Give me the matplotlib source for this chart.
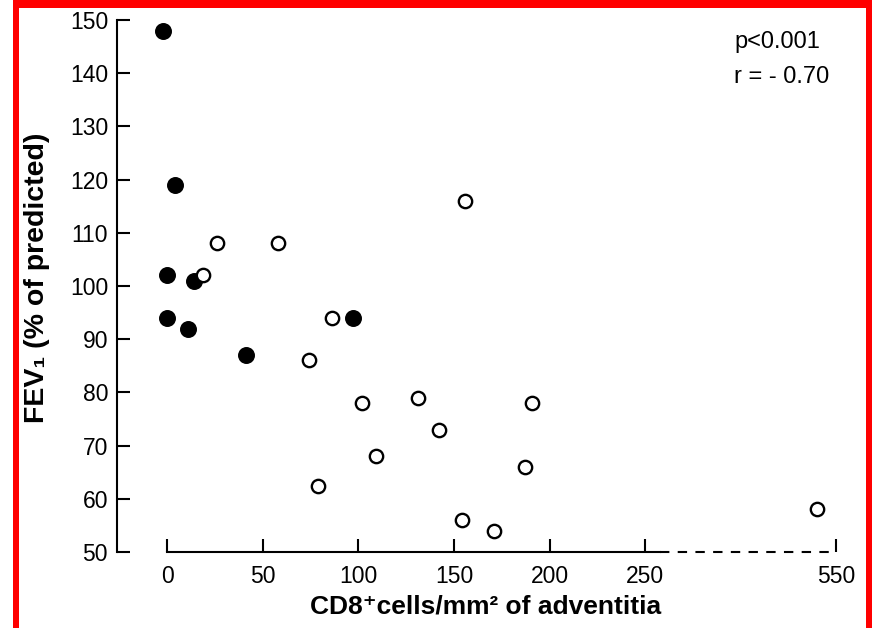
import numpy as np
import matplotlib.pyplot as plt
from matplotlib.patches import Rectangle

plt.rcParams['font.family'] = ['Liberation Sans', 'DejaVu Sans']

# smokers with airflow limitation (open) and without (filled)
cd8_filled = [-2, 4, 0, 14, 0, 11, 41, 97]
fev1_filled = [148, 119, 102, 101, 94, 92, 87, 94]

cd8_open = [26, 58, 19, 86, 74, 102, 131, 142, 109, 79, 154, 171, 187, 191, 156, 520]
fev1_open = [108, 108, 102, 94, 86, 78, 79, 73, 68, 62.5, 56, 54, 66, 78, 116, 58]

xticks = [0, 50, 100, 150, 200, 250, 550]
yticks = [50, 60, 70, 80, 90, 100, 110, 120, 130, 140, 150]

BREAK = 250  # axis is compressed past this value


def fwd(v):
    v = np.asarray(v, dtype=float)
    return np.where(v <= BREAK, v, BREAK + (v - BREAK) / 3.0)


def inv(t):
    t = np.asarray(t, dtype=float)
    return np.where(t <= BREAK, t, BREAK + (t - BREAK) * 3.0)


fig = plt.figure(figsize=(8.74, 6.28), dpi=100)
ax = fig.add_axes([0.1339, 0.1210, 0.8387, 0.8471])
ax.set_xscale('function', functions=(fwd, inv))
ax.set_xlim(inv(-26.2), inv(357.2))
ax.set_ylim(50, 150)

ax.plot(cd8_filled, fev1_filled, 'o', ms=11.2, mfc='black', mec='black',
        mew=1, clip_on=False, zorder=3)
ax.plot(cd8_open, fev1_open, 'o', ms=9.6, mfc='white', mec='black',
        mew=1.7, clip_on=False, zorder=4)

for s in ['top', 'right']:
    ax.spines[s].set_visible(False)
ax.spines['left'].set_bounds(50, 150)
ax.spines['bottom'].set_bounds(0, 274)
for s in ['left', 'bottom']:
    ax.spines[s].set_linewidth(1.5)
# dashed part of the broken x axis
ax.plot([274, 550], [50, 50], color='black', lw=1.5, ls=(0, (4.5, 4)),
        clip_on=False, zorder=2)

ax.set_xticks(xticks)
ax.set_xticklabels([str(v) for v in xticks])
ax.set_yticks(yticks)
ax.minorticks_off()
ax.tick_params(direction='in', length=9.4, width=1.5, labelsize=16.5)
ax.tick_params(axis='x', pad=9)
ax.tick_params(axis='y', pad=6.5)

ax.text(0.840, 1 - 42 / 628, 'p<0.001', transform=fig.transFigure,
        fontsize=17, ha='left', va='center')
ax.text(0.840, 1 - 77 / 628, 'r = - 0.70', transform=fig.transFigure,
        fontsize=17, ha='left', va='center')

fig.text(37 / 874, 1 - 278 / 628, 'FEV\u2081 (% of predicted)', rotation=90,
         fontsize=20.5, fontweight='bold', ha='center', va='center')
fig.text(486 / 874, 1 - 607 / 628, 'CD8\u207acells/mm\u00b2 of adventitia',
         fontsize=19, fontweight='bold', ha='center', va='center')

# red frame around the figure
for x0, y0, w, h in [(13, 0, 859, 8), (13, 0, 6, 628), (866, 0, 6, 628)]:
    fig.add_artist(Rectangle((x0 / 874, 1 - (y0 + h) / 628), w / 874, h / 628,
                             transform=fig.transFigure, color='#ff0000', lw=0))

fig.savefig('out.png', dpi=100)
